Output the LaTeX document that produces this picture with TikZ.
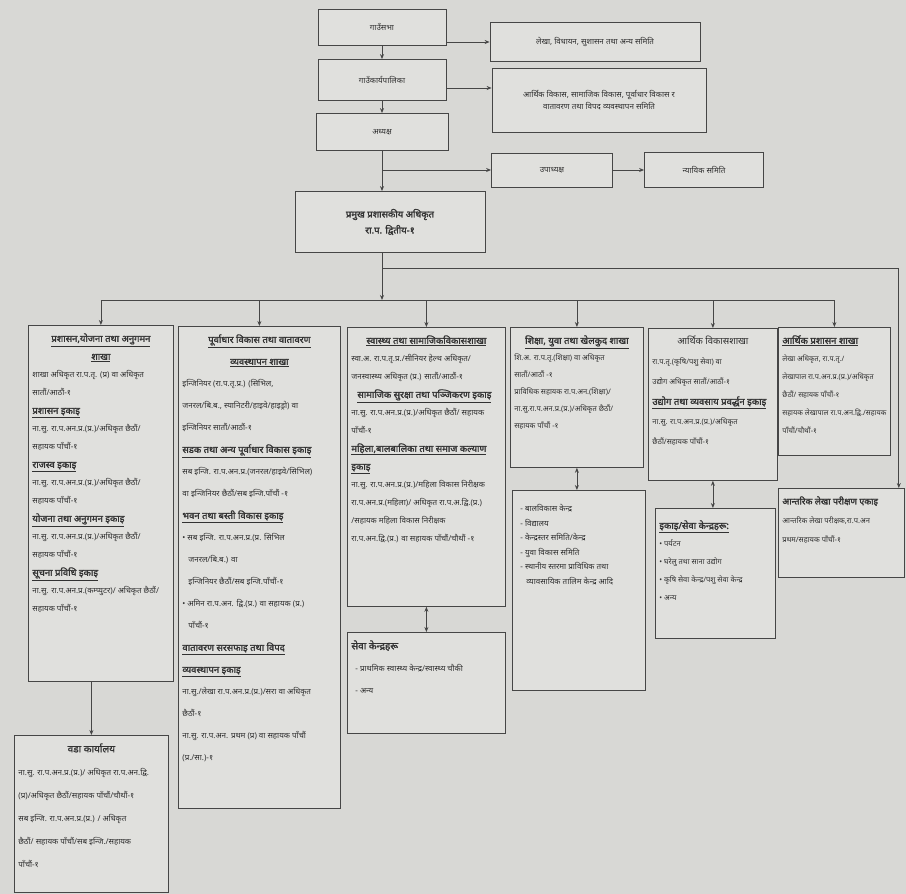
\documentclass[tikz,border=0pt]{standalone}
\usepackage{fontspec}
\setmainfont{Noto Sans}[Script=Devanagari]
\newfontfamily\gruesa{Noto Sans}[Script=Devanagari, FakeBold=1.6]
\usetikzlibrary{arrows.meta}
\definecolor{fondo}{RGB}{216,216,213}
\definecolor{relleno}{RGB}{224,224,221}
\definecolor{linea}{RGB}{70,70,70}
\definecolor{tinta}{RGB}{50,50,50}
\newcommand{\cuerpo}[3]{\parbox[t][#1][t]{#2}{\raggedright #3}}
\newcommand{\titulo}[1]{{\gruesa\fontsize{9.5}{17}\selectfont\underline{#1}}}
\begin{document}
\begin{tikzpicture}[x=1pt, y=-1pt, >={Stealth[length=5pt,width=4pt]},
    caja/.style={draw=linea, fill=relleno, line width=0.8pt, text=tinta},
    cima/.style={caja, font=\fontsize{8}{12}\selectfont, align=center, inner sep=2pt},
    rama/.style={caja, anchor=north west, inner sep=4pt, font=\fontsize{8}{18}\selectfont},
    flecha/.style={draw=linea, line width=0.8pt}]
    % Fondo
    \fill[fondo] (0,0) rectangle (906,894);
    \useasboundingbox (0,0) rectangle (906,894);

    % Nivel superior
    \node[cima, minimum width=128pt, minimum height=36pt] (sabha) at (382,27) {गाउँसभा};
    \node[cima, minimum width=128pt, minimum height=41pt] (karya) at (382,80) {गाउँकार्यपालिका};
    \node[cima, minimum width=132pt, minimum height=37pt] (adhyaksha) at (382,132) {अध्यक्ष};
    \node[cima, minimum width=210pt, minimum height=39pt] (samiti1) at (595,42) {लेखा, विधायन, सुशासन तथा अन्य समिति};
    \node[cima, minimum width=214pt, minimum height=64pt] (samiti2) at (599,100)
        {आर्थिक विकास, सामाजिक विकास, पूर्वाधार विकास र\\वातावरण तथा विपद व्यवस्थापन समिति};
    \node[cima, minimum width=121pt, minimum height=34pt] (upadhyaksha) at (552,170) {उपाध्यक्ष};
    \node[cima, minimum width=119pt, minimum height=35pt] (nyayik) at (704,170) {न्यायिक समिति};
    \node[cima, minimum width=190pt, minimum height=61pt, font=\gruesa\fontsize{9.5}{16}\selectfont] (pramukh) at (390,222)
        {प्रमुख प्रशासकीय अधिकृत\\रा.प. द्वितीय-१};

    \draw[flecha, ->] (sabha) -- (karya);
    \draw[flecha, ->] (karya) -- (adhyaksha);
    \draw[flecha, ->] (adhyaksha.south) -- (adhyaksha.south |- pramukh.north);
    \draw[flecha, ->] (sabha.east |- samiti1) -- (samiti1);
    \draw[flecha, ->] ([yshift=-8pt]karya.east) -- ([yshift=-8pt]karya.east -| samiti2.west);
    \draw[flecha, ->] (adhyaksha.south |- upadhyaksha) -- (upadhyaksha);
    \draw[flecha, ->] (upadhyaksha) -- (nyayik);

    % Shakhas
    \node[rama] (shakha1) at (28,325) {\cuerpo{348pt}{137pt}{\vspace*{4pt}%
        \centerline{\titulo{प्रशासन,योजना तथा अनुगमन}}
        \centerline{\titulo{शाखा}}
        शाखा अधिकृत रा.प.तृ. (प्र) वा अधिकृत\\
        सातौं/आठौं-१\\
        \titulo{प्रशासन इकाइ}\\
        ना.सु. रा.प.अन.प्र.(प्र.)/अधिकृत छैठौं/\\
        सहायक पाँचौं-१\\
        \titulo{राजस्व इकाइ}\\
        ना.सु. रा.प.अन.प्र.(प्र.)/अधिकृत छैठौं/\\
        सहायक पाँचौं-१\\
        \titulo{योजना तथा अनुगमन इकाइ}\\
        ना.सु. रा.प.अन.प्र.(प्र.)/अधिकृत छैठौं/\\
        सहायक पाँचौं-१\\
        \titulo{सूचना प्रविधि इकाइ}\\
        ना.सु. रा.प.अन.प्र.(कम्प्युटर)/ अधिकृत छैठौं/\\
        सहायक पाँचौं-१}};

    \node[rama, font=\fontsize{8}{22}\selectfont] (shakha2) at (178,326) {\cuerpo{474pt}{154pt}{\vspace*{4pt}%
        \centerline{\titulo{पूर्वाधार विकास तथा वातावरण}}
        \centerline{\titulo{व्यवस्थापन शाखा}}
        इन्जिनियर (रा.प.तृ.प्र.) (सिभिल,\\
        जनरल/बि.ब., स्यानिटरी/हाइवे/हाइड्रो) वा\\
        इन्जिनियर सातौं/आठौं-१\\
        \titulo{सडक तथा अन्य पूर्वाधार विकास इकाइ}\\
        सब इन्जि. रा.प.अन.प्र.(जनरल/हाइवे/सिभिल)\\
        वा इन्जिनियर छैठौं/सब इन्जि.पाँचौं -१\\
        \titulo{भवन तथा बस्ती विकास इकाइ}\\
        • सब इन्जि. रा.प.अन.प्र.(प्र. सिभिल\\
        \hspace*{6pt}जनरल/बि.ब.) वा\\
        \hspace*{6pt}इन्जिनियर छैठौं/सब इन्जि.पाँचौं-१\\
        • अमिन रा.प.अन. द्वि.(प्र.) वा सहायक (प्र.)\\
        \hspace*{6pt}पाँचौं-१\\
        \titulo{वातावरण सरसफाइ तथा विपद}\\
        \titulo{व्यवस्थापन इकाइ}\\
        ना.सु./लेखा रा.प.अन.प्र.(प्र.)/सरा वा अधिकृत\\
        छैठौं-१\\
        ना.सु. रा.प.अन. प्रथम (प्र) वा सहायक पाँचौं\\
        (प्र./सा.)-१}};

    \node[rama] (shakha3) at (347,327) {\cuerpo{271pt}{150pt}{\vspace*{4pt}%
        \centerline{\titulo{स्वास्थ्य तथा सामाजिकविकासशाखा}}
        स्वा.अ. रा.प.तृ.प्र./सीनियर हेल्थ अधिकृत/\\
        जनस्वास्थ्य अधिकृत (प्र.) सातौं/आठौं-१\\
        \hspace*{6pt}\titulo{सामाजिक सुरक्षा तथा पञ्जिकरण इकाइ}\\
        ना.सु. रा.प.अन.प्र.(प्र.)/अधिकृत छैठौं/ सहायक\\
        पाँचौं-१\\
        \titulo{महिला,बालबालिका तथा समाज कल्याण}\\
        \titulo{इकाइ}\\
        ना.सु. रा.प.अन.प्र.(प्र.)/महिला विकास निरीक्षक\\
        रा.प.अन.प्र.(महिला)/ अधिकृत रा.प.अ.द्वि.(प्र.)\\
        /सहायक महिला विकास निरीक्षक\\
        रा.प.अन.द्वि.(प्र.) वा सहायक पाँचौं/चौथौं -१}};

    \node[rama, font=\fontsize{7.5}{17}\selectfont] (shakha4) at (510,327) {\cuerpo{132pt}{125pt}{\vspace*{4pt}%
        \centerline{\titulo{शिक्षा, युवा तथा खेलकुद शाखा}}
        शि.अ. रा.प.तृ.(शिक्षा) वा अधिकृत\\
        सातौं/आठौं -१\\
        प्राविधिक सहायक रा.प.अन.(शिक्षा)/\\
        ना.सु.रा.प.अन.प्र.(प्र.)/अधिकृत छैठौं/\\
        सहायक पाँचौं -१}};

    \node[rama, font=\fontsize{7.5}{20}\selectfont] (shakha5) at (648,328) {\cuerpo{144pt}{121pt}{\vspace*{4pt}%
        \centerline{\fontsize{9.5}{17}\selectfont आर्थिक विकासशाखा}
        रा.प.तृ.(कृषि/पशु सेवा) वा\\
        उद्योग अधिकृत सातौं/आठौं-१\\
        \titulo{उद्योग तथा व्यवसाय प्रवर्द्धन इकाइ}\\
        ना.सु. रा.प.अन.प्र.(प्र.)/अधिकृत\\
        छैठौं/सहायक पाँचौं-१}};

    \node[rama, font=\fontsize{7.3}{18}\selectfont] (shakha6) at (778,327) {\cuerpo{120pt}{104pt}{\vspace*{4pt}%
        \titulo{आर्थिक प्रशासन शाखा}\\
        लेखा अधिकृत, रा.प.तृ./\\
        लेखापाल रा.प.अन.प्र.(प्र.)/अधिकृत\\
        छैठौं/ सहायक पाँचौं-१\\
        सहायक लेखापाल रा.प.अन.द्वि./सहायक\\
        पाँचौं/चौथौं-१}};

    % Unidades inferiores
    \node[rama, font=\fontsize{8}{22}\selectfont] (seva3) at (347,632) {\cuerpo{93pt}{150pt}{\vspace*{4pt}%
        {\gruesa\fontsize{10}{22}\selectfont सेवा केन्द्रहरू}\\
        \hspace*{4pt}- प्राथमिक स्वास्थ्य केन्द्र/स्वास्थ्य चौकी\\
        \hspace*{4pt}- अन्य}};

    \node[rama, font=\fontsize{8}{14.5}\selectfont] (kendra4) at (512,490) {\cuerpo{192pt}{125pt}{\vspace*{10pt}%
        \hspace*{4pt}- बालविकास केन्द्र\\
        \hspace*{4pt}- विद्यालय\\
        \hspace*{4pt}- केन्द्रस्तर समिति/केन्द्र\\
        \hspace*{4pt}- युवा विकास समिति\\
        \hspace*{4pt}- स्थानीय स्तरमा प्राविधिक तथा\\
        \hspace*{10pt}व्यावसायिक तालिम केन्द्र आदि}};

    \node[rama, font=\fontsize{7.5}{18}\selectfont] (kendra5) at (655,508) {\cuerpo{122pt}{112pt}{\vspace*{8pt}%
        \titulo{इकाइ/सेवा केन्द्रहरू:}\\
        • पर्यटन\\
        • घरेलु तथा साना उद्योग\\
        • कृषि सेवा केन्द्र/पशु सेवा केन्द्र\\
        • अन्य}};

    \node[rama, font=\fontsize{7.5}{19}\selectfont] (antarik) at (778,488) {\cuerpo{81pt}{118pt}{\vspace*{4pt}%
        {\gruesa\fontsize{9}{19}\selectfont आन्तरिक लेखा परीक्षण एकाइ}\\
        आन्तरिक लेखा परीक्षक,रा.प.अन\\
        प्रथम/सहायक पाँचौं-१}};

    \node[rama, font=\fontsize{8}{23}\selectfont] (wada) at (14,735) {\cuerpo{149pt}{146pt}{\vspace*{4pt}%
        \centerline{\gruesa\fontsize{10}{23}\selectfont वडा कार्यालय}
        ना.सु. रा.प.अन.प्र.(प्र.)/ अधिकृत रा.प.अन.द्वि.\\
        (प्र)/अधिकृत छैठौं/सहायक पाँचौं/चौथौं-१\\
        सब इन्जि. रा.प.अन.प्र.(प्र.) / अधिकृत\\
        छैठौं/ सहायक पाँचौं/सब इन्जि./सहायक\\
        पाँचौं-१}};

    % Conexiones a las shakhas
    \coordinate (reparto) at (382,268);
    \coordinate (bus) at (382,300);
    \draw[flecha, ->] (adhyaksha.south |- pramukh.south) -- (bus);
    \draw[flecha, ->] (reparto) -| ([xshift=-6pt]antarik.north east);
    \draw[flecha] (shakha1.north |- bus) -- (shakha6.north |- bus);
    \foreach \s in {1,...,6}
        \draw[flecha, ->] (shakha\s.north |- bus) -- (shakha\s.north);

    \draw[flecha, ->] (shakha1.south -| wada.north) -- (wada.north);
    \draw[flecha, <->] (shakha3.south) -- (shakha3.south |- seva3.north);
    \draw[flecha, <->] (shakha4.south) -- (shakha4.south |- kendra4.north);
    \draw[flecha, <->] (shakha5.south) -- (shakha5.south |- kendra5.north);
\end{tikzpicture}
\end{document}
